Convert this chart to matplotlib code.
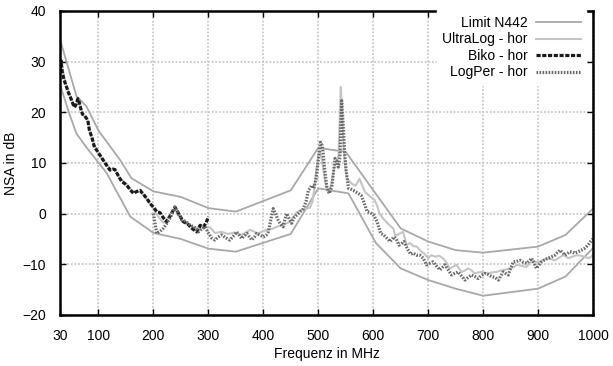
import matplotlib
matplotlib.use("Agg")
import matplotlib.pyplot as plt

plt.rcParams['font.family'] = ['Liberation Sans', 'DejaVu Sans']

# --- Limit N442 (upper / lower tolerance lines) ---
lim_up_f = [30, 60, 78, 100, 140, 160, 200, 250, 300, 350, 450, 500, 550,
            650, 700, 750, 800, 900, 950, 1000]
lim_up_db = [34.4, 23.2, 21.2, 16.4, 10.5, 7.0, 4.4, 3.3, 1.1, 0.4, 4.6, 13.0, 12.2,
             -2.9, -5.5, -7.2, -7.7, -6.5, -4.2, 1.0]
lim_lo_f = [30, 47, 60, 78, 115, 158, 200, 250, 300, 350, 450, 500, 555,
            605, 650, 700, 750, 800, 900, 950, 1000]
lim_lo_db = [25.5, 19.7, 15.8, 13.1, 8.0, -0.6, -3.8, -5.0, -6.9, -7.5, -4.0, 5.0, 4.0,
             -5.8, -10.8, -13.1, -14.8, -16.2, -14.8, -12.4, -6.8]

# --- UltraLog - hor ---
ultra_f = [30, 32, 35, 38, 42, 46, 50, 54, 58, 62,
           66, 70, 75, 80, 85, 90, 96, 102, 108, 115,
           122, 130, 138, 145, 152, 160, 168, 176, 184, 192,
           200, 206, 212, 218, 225, 232, 239, 246, 253, 260,
           268, 276, 285, 294, 303, 312, 324, 336, 348, 360,
           376, 390, 406, 416, 424, 436, 448.5, 460, 470, 479,
           485, 490, 495, 500, 503, 507, 512, 518, 524, 529,
           533, 537, 539, 541, 543, 546, 550, 553, 560, 568,
           575, 580, 585, 593, 602.5, 607, 611.6, 620, 627, 633,
           637, 640, 647, 654.5, 660.6, 667, 673, 679, 688, 694,
           700, 706, 712.5, 720, 727, 733, 739.6, 745, 751.8, 756,
           761, 767, 773, 779, 785, 791, 797, 803, 809, 816,
           824, 830, 836.7, 843, 848.7, 855, 861, 870, 879, 885,
           891, 897, 903, 909, 915.6, 923, 930.7, 938, 946, 951,
           955, 962, 970, 978, 985, 992, 997.5, 1000]
ultra_db = [29.5, 30.0, 28.5, 26.8, 25.2, 24.0, 22.9, 21.8, 21.0, 22.2,
            21.5, 20.2, 19.2, 18.6, 16.0, 14.2, 12.8, 11.6, 10.6, 9.7,
            8.8, 8.6, 7.2, 6.4, 5.8, 4.6, 4.2, 4.4, 3.4, 2.2,
            1.0, -0.2, -1.0, -1.8, -1.0, 0.2, 1.0, -0.2, -1.4, -1.8,
            -2.4, -2.8, -2.9, -2.6, -2.7, -3.8, -3.6, -4.0, -3.7, -4.2,
            -3.2, -3.9, -3.2, -3.0, -2.6, -2.2, -1.6, 0.2, 0.8, 1.0,
            1.2, 2.5, 7.0, 11.5, 12.3, 10.5, 6.5, 4.2, 5.8, 9.0,
            10.2, 11.5, 18.0, 25.0, 21.0, 13.0, 8.5, 6.8, 6.0, 5.5,
            6.9, 5.6, 4.3, 3.5, 2.7, 1.6, 0.0, -1.2, -2.0, -2.6,
            -3.0, -4.4, -4.0, -3.6, -6.2, -5.8, -6.4, -6.5, -7.5, -8.0,
            -8.8, -8.2, -8.5, -8.3, -8.8, -9.6, -10.8, -10.5, -10.1, -10.8,
            -11.5, -11.2, -10.8, -11.2, -11.8, -11.6, -11.5, -11.7, -11.8, -11.6,
            -11.5, -11.3, -11.1, -11.0, -10.8, -10.6, -10.1, -10.3, -10.5, -9.8,
            -9.2, -9.6, -9.5, -9.2, -8.8, -9.0, -9.2, -8.7, -8.2, -8.5,
            -8.8, -8.5, -8.2, -8.3, -8.5, -8.8, -8.4, -8.0]

# --- Biko - hor ---
biko_f = [30, 32, 34, 37, 41, 45, 50, 53, 56, 59,
          62.5, 65, 68.5, 71, 74.5, 77, 80.7, 83.6, 88, 92.7,
          97, 103, 109, 115, 121, 126, 130, 136, 142.5, 147,
          151.6, 157, 163.6, 170, 175.8, 182, 188, 194, 200, 206,
          212, 218, 224, 232, 239, 246, 254.5, 262, 270, 279,
          285, 291, 296, 300]
biko_db = [28.5, 30.2, 28.0, 26.5, 25.3, 24.0, 22.7, 21.8, 21.0, 21.5,
           22.7, 22.0, 20.4, 19.6, 19.4, 19.0, 18.4, 16.4, 15.1, 13.1,
           12.5, 11.5, 10.5, 9.5, 8.6, 8.8, 8.7, 7.5, 6.3, 6.0,
           5.6, 4.8, 4.0, 4.4, 4.6, 3.8, 3.0, 2.0, 1.3, 0.4,
           0.2, -0.8, -1.6, -0.2, 1.3, 0.0, -1.6, -2.0, -2.9, -3.6,
           -2.3, -2.6, -1.8, -0.6]

# --- LogPer - hor ---
logper_f = [200, 203, 206, 212, 218, 224, 232, 239, 245, 251.6,
            259, 266.7, 274, 282, 288, 294, 300, 306, 312, 318,
            324, 331, 339, 345, 351.6, 356, 360.7, 365, 370, 375,
            379, 384, 388, 394, 400, 405, 409, 414, 418, 423,
            427, 431, 436, 439, 442.5, 447, 451.6, 456, 460.7, 467,
            473, 478, 482, 485, 488, 492, 496, 500, 504, 507,
            509, 512, 515.6, 520, 524.7, 528, 530.5, 533, 536.5, 539.5,
            541, 542.6, 545.6, 548, 550.7, 555, 560, 564, 568, 573,
            578, 583, 589, 595, 601, 607, 613.6, 619, 625.6, 631,
            637.8, 642, 646.9, 651, 656, 662, 668, 673, 679, 685,
            691, 697, 703, 709, 715, 721.6, 726, 730.7, 736, 742.5,
            748, 754.5, 760, 766.7, 773, 779, 785, 791, 797, 803,
            809, 815.6, 822, 827.8, 832, 836.7, 841, 845.8, 850, 855,
            861, 867, 873, 879, 884, 888, 893, 897, 902, 906.5,
            912, 918.6, 925, 930.7, 935, 940, 945, 949, 954, 958,
            963, 967, 973, 979, 984, 988, 993, 997.5, 1000]
logper_db = [0.0, -2.0, -3.9, -3.5, -2.9, -2.0, -0.5, 1.3, 0.0, -1.3,
             -1.5, -2.3, -2.6, -3.6, -3.0, -2.6, -3.8, -4.8, -5.2, -4.6,
             -4.2, -4.7, -5.2, -4.5, -3.6, -4.2, -4.9, -4.4, -3.9, -4.6,
             -5.2, -4.6, -3.9, -4.2, -4.6, -4.3, -3.6, -1.0, 1.0, -0.2,
             -1.3, -2.0, -2.6, -1.2, 0.0, -1.0, -1.9, -0.8, -0.3, 0.4,
             1.0, 2.5, 4.6, 5.0, 5.6, 5.0, 7.0, 10.5, 14.1, 13.5,
             11.8, 8.5, 5.3, 4.0, 5.3, 8.5, 10.9, 10.5, 9.2, 11.2,
             17.0, 22.3, 17.1, 12.0, 8.6, 5.0, 4.8, 4.6, 4.3, 4.0,
             3.6, 2.3, 0.4, 0.2, -0.3, -1.6, -3.9, -4.2, -4.9, -5.5,
             -4.6, -5.0, -6.2, -6.0, -5.5, -6.9, -8.0, -7.8, -8.2, -8.2,
             -8.8, -10.1, -9.8, -9.5, -10.3, -11.1, -10.6, -10.1, -11.0, -12.1,
             -11.8, -11.5, -12.2, -13.1, -12.6, -12.1, -12.4, -12.8, -12.2, -11.8,
             -12.0, -12.4, -12.6, -13.1, -12.3, -11.5, -11.8, -12.1, -10.8, -9.5,
             -9.4, -9.2, -9.6, -9.8, -9.3, -8.8, -9.8, -10.8, -10.1, -9.5,
             -9.1, -8.8, -8.5, -8.2, -7.7, -7.2, -7.7, -8.2, -7.8, -7.5,
             -7.6, -7.8, -7.5, -7.2, -6.9, -6.5, -5.9, -5.2, -5.0]

x_ticks = [30, 100, 200, 300, 400, 500, 600, 700, 800, 900, 1000]
y_ticks = [-20, -10, 0, 10, 20, 30, 40]

fig = plt.figure(figsize=(6.13, 3.66), dpi=100)
ax = fig.add_axes([60 / 613, 1 - 315 / 366, 533 / 613, 304 / 366])

lim_color = '#a8a8a8'
ax.plot(lim_up_f, lim_up_db, color=lim_color, lw=1.3, label='Limit N442', zorder=3)
ax.plot(lim_lo_f, lim_lo_db, color=lim_color, lw=1.3, zorder=3)
ax.plot(ultra_f, ultra_db, color='#c4c4c4', lw=1.5, label='UltraLog - hor', zorder=4)
ax.plot(biko_f, biko_db, color='#1a1a1a', lw=2.3, ls=(0, (1.3, 0.5)),
        label='Biko - hor', zorder=5)
ax.plot(logper_f, logper_db, color='#6a6a6a', lw=2.3, ls=(0, (0.5, 0.45)),
        label='LogPer - hor', zorder=6)

ax.set_xlim(30, 1000)
ax.set_ylim(-20, 40)
ax.set_xticks(x_ticks)
ax.set_yticks(y_ticks)
ax.tick_params(direction='in', length=4, width=1, top=True, right=True,
               labelsize=10)
ax.tick_params(axis='x', pad=10)
ax.tick_params(axis='y', pad=10)
ax.grid(True, color='#c8c8c8', ls=(0, (1, 1)), lw=1.3, zorder=1)
for sp in ax.spines.values():
    sp.set_linewidth(1.8)
    sp.set_zorder(10)

ax.set_xlabel('Frequenz in MHz', fontsize=10, labelpad=3)
ax.set_ylabel('NSA in dB', fontsize=10)
ax.yaxis.set_label_coords(-0.078, 0.5)

leg = ax.legend(loc='upper right', bbox_to_anchor=(1.0, 1.025), frameon=True,
                markerfirst=False, fontsize=10, handlelength=3.2,
                labelspacing=0.18, handletextpad=0.6, borderpad=0.4,
                fancybox=False, edgecolor='white', framealpha=1.0)
leg.set_zorder(20)

fig.savefig('out.png', dpi=100)
